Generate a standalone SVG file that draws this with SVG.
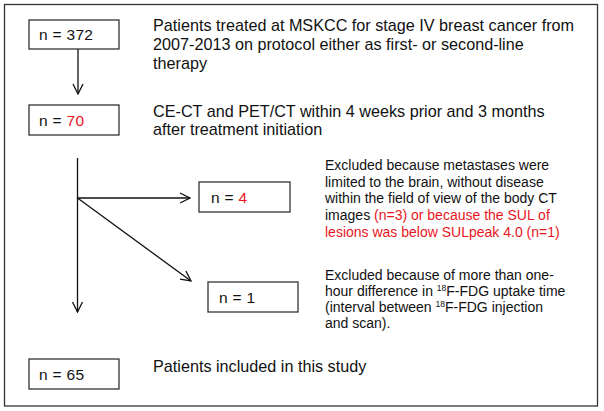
<svg xmlns="http://www.w3.org/2000/svg" width="604" height="411" viewBox="0 0 604 411">
<style>
.box{fill:#fff;stroke:#333;stroke-width:1.3}
.n{font-family:"Liberation Sans",Arial,sans-serif;font-size:15.5px;letter-spacing:0.3px;fill:#111}
.t{font-family:"Liberation Sans",Arial,sans-serif;font-size:16.2px;fill:#111}
.s{font-family:"Liberation Sans",Arial,sans-serif;font-size:14px;fill:#111}
.r{fill:#e8161d}
.sup{font-size:8.5px}
.c{fill:none;stroke:#111;stroke-width:1.3}
</style>
<defs>
<marker id="ah" viewBox="0 0 12 12" refX="11" refY="6" markerWidth="12" markerHeight="12" markerUnits="userSpaceOnUse" orient="auto">
<path d="M1,1 L11,6 L1,11" fill="none" stroke="#111" stroke-width="1.3"/>
</marker>
</defs>
<rect x="4.5" y="4.5" width="593" height="401.5" fill="#fff" stroke="#333" stroke-width="1.3"/>
<g id="connectors">
<line class="c" x1="78" y1="49" x2="78" y2="94" marker-end="url(#ah)"/>
<line class="c" x1="77.5" y1="158" x2="77.5" y2="312" marker-end="url(#ah)"/>
<line class="c" x1="77.5" y1="198" x2="190" y2="198" marker-end="url(#ah)"/>
<line class="c" x1="77.5" y1="198" x2="191" y2="281" marker-end="url(#ah)"/>
</g>
<g id="node-372">
<rect class="box" x="29" y="20" width="90" height="29"/>
<text class="n" x="39" y="39.5">n = 372</text>
<text class="t" x="153" y="31">Patients treated at MSKCC for stage IV breast cancer from</text>
<text class="t" x="153" y="50">2007-2013 on protocol either as first- or second-line</text>
<text class="t" x="153" y="69">therapy</text>
</g>
<g id="node-70">
<rect class="box" x="29" y="105" width="90" height="30"/>
<text class="n" x="39" y="125.5">n = <tspan class="r">70</tspan></text>
<text class="t" x="153" y="117">CE-CT and PET/CT within 4 weeks prior and 3 months</text>
<text class="t" x="153" y="135">after treatment initiation</text>
</g>
<g id="node-4">
<rect class="box" x="199" y="182" width="91" height="30"/>
<text class="n" x="211" y="203">n = <tspan class="r">4</tspan></text>
<text class="s" x="325" y="170">Excluded because metastases were</text>
<text class="s" x="325" y="186.5">limited to the brain, without disease</text>
<text class="s" x="325" y="203">within the field of view of the body CT</text>
<text class="s" x="325" y="219.5">images <tspan class="r">(n=3) or because the SUL of</tspan></text>
<text class="s r" x="325" y="236.5">lesions was below SULpeak 4.0 (n=1)</text>
</g>
<g id="node-1">
<rect class="box" x="208" y="282" width="90" height="30"/>
<text class="n" x="219" y="303">n = 1</text>
<text class="s" x="325" y="280">Excluded because of more than one-</text>
<text class="s" x="325" y="296">hour difference in <tspan class="sup" dy="-5">18</tspan><tspan dy="5">F-FDG uptake time</tspan></text>
<text class="s" x="325" y="312">(interval between <tspan class="sup" dy="-5">18</tspan><tspan dy="5">F-FDG injection</tspan></text>
<text class="s" x="325" y="327.5">and scan).</text>
</g>
<g id="node-65">
<rect class="box" x="29" y="359" width="90" height="30"/>
<text class="n" x="39" y="380">n = 65</text>
<text class="t" x="153" y="372">Patients included in this study</text>
</g>
</svg>
